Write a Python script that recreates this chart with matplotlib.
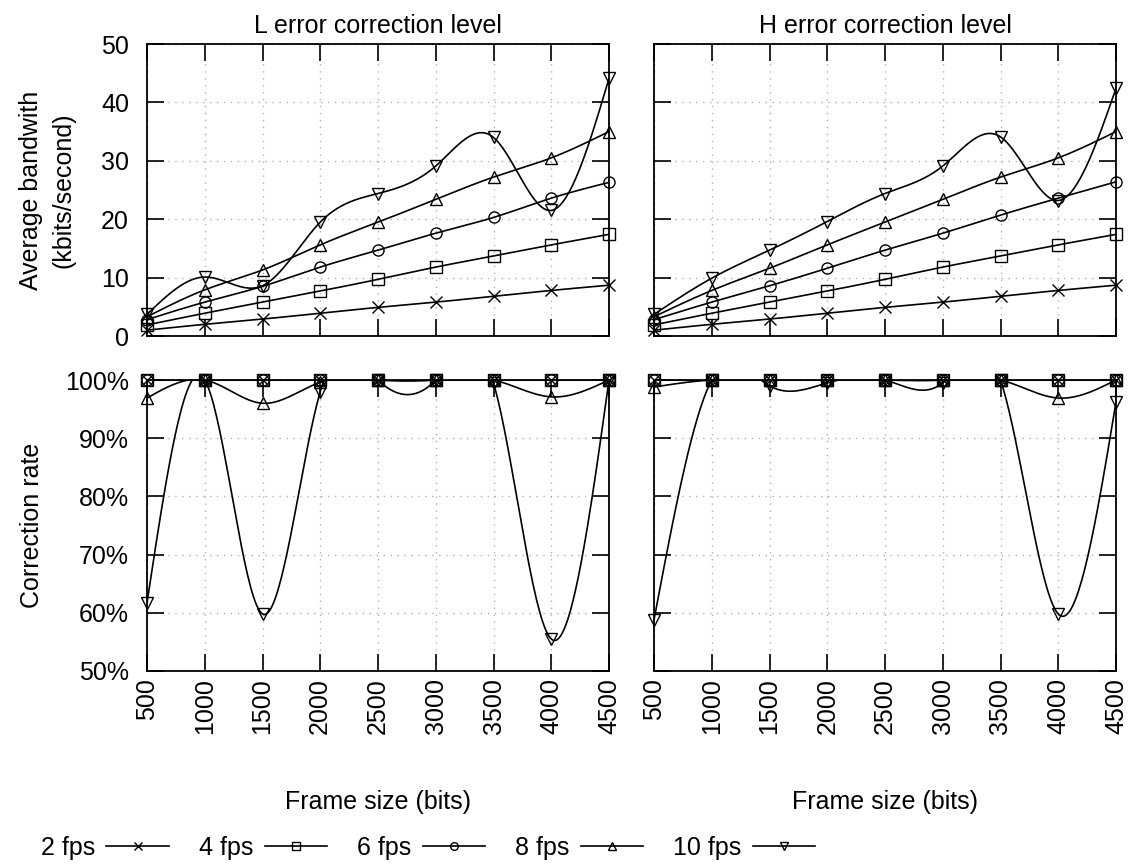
import numpy as np
import matplotlib
matplotlib.use('Agg')
import matplotlib.pyplot as plt
from matplotlib.lines import Line2D

plt.rcParams['font.family'] = ['Liberation Sans', 'DejaVu Sans']

# Data
frame_sizes = [500, 1000, 1500, 2000, 2500, 3000, 3500, 4000, 4500]
fps_labels = ['2 fps', '4 fps', '6 fps', '8 fps', '10 fps']
markers = ['x', 's', 'o', '^', 'v']

# Average bandwidth (kbits/second), L level
bw_L_2 = [1.0, 2.0, 2.9, 3.9, 4.9, 5.8, 6.8, 7.8, 8.7]
bw_L_4 = [1.9, 3.9, 5.8, 7.7, 9.7, 11.8, 13.7, 15.6, 17.4]
bw_L_6 = [2.8, 5.8, 8.5, 11.8, 14.7, 17.6, 20.3, 23.6, 26.3]
bw_L_8 = [3.3, 7.9, 11.3, 15.6, 19.5, 23.4, 27.2, 30.5, 35.0]
bw_L_10 = [3.7, 10.1, 8.6, 19.5, 24.4, 29.1, 34.0, 21.5, 44.1]

# Average bandwidth (kbits/second), H level
bw_H_2 = [1.0, 2.0, 2.9, 3.9, 4.9, 5.8, 6.8, 7.8, 8.7]
bw_H_4 = [1.9, 3.9, 5.8, 7.7, 9.7, 11.8, 13.7, 15.6, 17.4]
bw_H_6 = [2.8, 5.8, 8.6, 11.6, 14.7, 17.6, 20.7, 23.6, 26.4]
bw_H_8 = [3.3, 7.8, 11.6, 15.6, 19.5, 23.4, 27.2, 30.5, 35.0]
bw_H_10 = [3.7, 9.9, 14.7, 19.6, 24.4, 29.1, 34.1, 23.2, 42.4]

# Correction rate (%), L level
cr_L_2 = [100, 100, 100, 100, 100, 100, 100, 100, 100]
cr_L_4 = [100, 100, 100, 100, 100, 100, 100, 100, 100]
cr_L_6 = [100, 100, 100, 100, 100, 100, 100, 100, 100]
cr_L_8 = [96.9, 100, 96.0, 99.6, 100, 100, 100, 97.1, 100]
cr_L_10 = [61.7, 100, 59.8, 98.0, 100, 100, 99.5, 55.5, 100]

# Correction rate (%), H level
cr_H_2 = [100, 100, 100, 100, 100, 100, 100, 100, 100]
cr_H_4 = [100, 100, 100, 100, 100, 100, 100, 100, 100]
cr_H_6 = [100, 100, 100, 100, 100, 100, 100, 100, 100]
cr_H_8 = [98.8, 100, 100, 100, 100, 100, 100, 96.9, 100]
cr_H_10 = [58.8, 100, 99.0, 99.5, 100, 99.5, 100, 59.8, 96.2]


def cspline(x, y, n=300):
    # natural cubic spline, like gnuplot's "smooth csplines"
    x = np.asarray(x, float)
    y = np.asarray(y, float)
    N = len(x)
    h = np.diff(x)
    A = np.zeros((N, N))
    b = np.zeros(N)
    A[0, 0] = A[-1, -1] = 1
    for i in range(1, N - 1):
        A[i, i - 1] = h[i - 1]
        A[i, i] = 2 * (h[i - 1] + h[i])
        A[i, i + 1] = h[i]
        b[i] = 6 * ((y[i + 1] - y[i]) / h[i] - (y[i] - y[i - 1]) / h[i - 1])
    M = np.linalg.solve(A, b)
    xs = np.linspace(x[0], x[-1], n)
    idx = np.clip(np.searchsorted(x, xs) - 1, 0, N - 2)
    x0, x1 = x[idx], x[idx + 1]
    hh = x1 - x0
    t0, t1 = xs - x0, x1 - xs
    ys = (M[idx] * t1 ** 3 / (6 * hh) + M[idx + 1] * t0 ** 3 / (6 * hh)
          + (y[idx] / hh - M[idx] * hh / 6) * t1
          + (y[idx + 1] / hh - M[idx + 1] * hh / 6) * t0)
    return xs, ys


W, H = 1135, 867
fig = plt.figure(figsize=(W / 100, H / 100), dpi=100)

def px_axes(left, top, right, bottom):
    return fig.add_axes([left / W, 1 - bottom / H, (right - left) / W, (bottom - top) / H])

ax_tl = px_axes(147, 44, 609, 336)
ax_tr = px_axes(654, 44, 1116, 336)
ax_bl = px_axes(147, 380, 609, 671)
ax_br = px_axes(654, 380, 1116, 671)

FS = 18
ms = 8

panels = [
    (ax_tl, [bw_L_2, bw_L_4, bw_L_6, bw_L_8, bw_L_10]),
    (ax_tr, [bw_H_2, bw_H_4, bw_H_6, bw_H_8, bw_H_10]),
    (ax_bl, [np.array(c) / 100 for c in [cr_L_2, cr_L_4, cr_L_6, cr_L_8, cr_L_10]]),
    (ax_br, [np.array(c) / 100 for c in [cr_H_2, cr_H_4, cr_H_6, cr_H_8, cr_H_10]]),
]

for ax, series in panels:
    for vals, mk in zip(series, markers):
        xs, ys = cspline(frame_sizes, vals)
        ax.plot(xs, ys, color='black', lw=1.2, zorder=3)
        ax.plot(frame_sizes, vals, linestyle='none', marker=mk, ms=ms,
                mfc='none', mec='black', mew=1.0, clip_on=False, zorder=4)
    ax.set_xlim(500, 4500)
    ax.set_xticks(frame_sizes)
    ax.grid(True, color='#b0b0b0', linestyle=(0, (1, 4)), lw=1.0)
    ax.tick_params(direction='in', length=12, width=1.2, top=True, right=True,
                   labelsize=FS)
    ax.tick_params(axis='y', pad=13)
    ax.tick_params(axis='x', pad=5)
    for s in ax.spines.values():
        s.set_linewidth(1.3)

for ax in (ax_tl, ax_tr):
    ax.set_ylim(0, 50)
    ax.set_yticks([0, 10, 20, 30, 40, 50])
    ax.tick_params(labelbottom=False)

for ax in (ax_bl, ax_br):
    ax.set_ylim(0.5, 1.0)
    ax.set_yticks([0.5, 0.6, 0.7, 0.8, 0.9, 1.0])
    ax.set_yticklabels(['50%', '60%', '70%', '80%', '90%', '100%'])
    ax.set_xticklabels([str(v) for v in frame_sizes], rotation=90)
    ax.set_xlabel('Frame size (bits)', fontsize=FS, labelpad=40)

for ax in (ax_tr, ax_br):
    ax.tick_params(labelleft=False)

ax_tl.set_title('L error correction level', fontsize=FS, pad=8)
ax_tr.set_title('H error correction level', fontsize=FS, pad=8)
ax_tl.set_ylabel('Average bandwith\n(kbits/second)', fontsize=FS, labelpad=18,
                 linespacing=1.45)
ax_bl.set_ylabel('Correction rate', fontsize=FS, labelpad=15)

handles = [Line2D([], [], color='black', lw=1.2, marker=mk, ms=5.5, mfc='none',
                  mec='black', mew=1.0) for mk in markers]
fig.legend(handles, fps_labels, loc='center', bbox_to_anchor=(428 / W, 1 - 848 / H),
           ncol=5, frameon=False, markerfirst=False, handlelength=2.5,
           columnspacing=1.2, handletextpad=0.45, fontsize=FS)

fig.savefig('out.png', dpi=100)
